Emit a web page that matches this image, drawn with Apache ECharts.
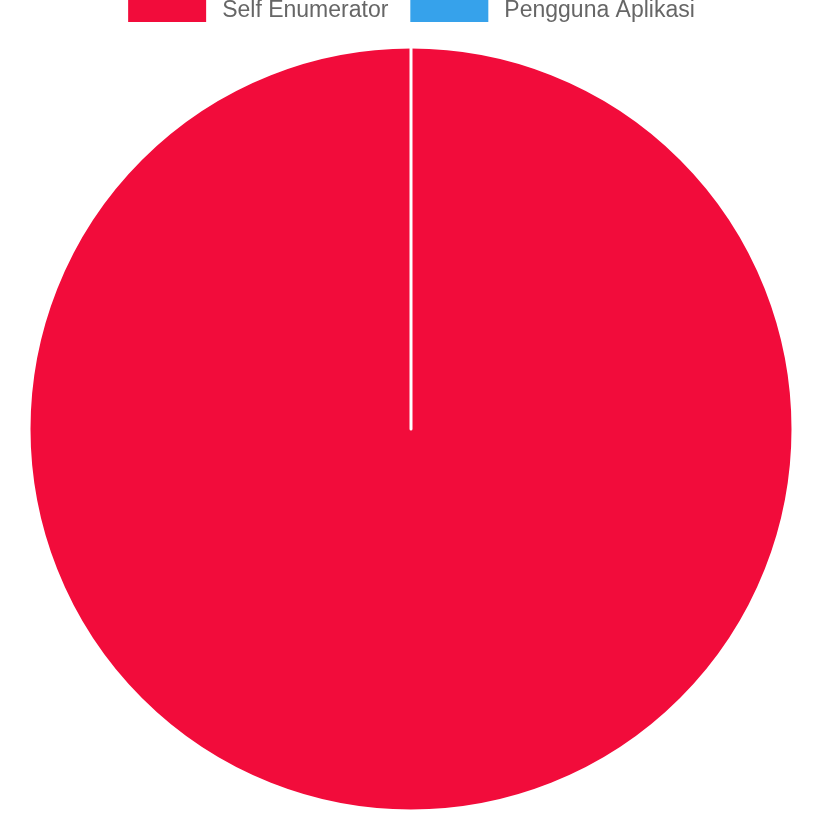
<!DOCTYPE html>
<html>
<head>
<meta charset="utf-8">
<script src="https://cdn.jsdelivr.net/npm/echarts@6/dist/echarts.min.js"></script>
<style>
  html, body { margin: 0; padding: 0; background: #fff; }
  #chart { width: 821px; height: 816px; }
</style>
</head>
<body>
<div id="chart"></div>
<script>
var labels = ["Self Enumerator", "Pengguna Aplikasi"];
var values = [100, 0];
var colors = ["#f20c3b", "#36a2eb"];

var myChart = echarts.init(document.getElementById("chart"));
myChart.setOption({
  animation: false,
  legend: {
    top: -3,
    padding: 0,
    left: "center",
    itemWidth: 80,
    itemHeight: 25,
    itemGap: 20,
    icon: "rect",
    textStyle: {
      color: "#666",
      fontSize: 23,
      fontFamily: "Liberation Sans",
      padding: [0, 0, 0, 10],
    },
    data: labels,
  },
  series: [
    {
      type: "pie",
      center: [411, 429],
      radius: [0, 382],
      startAngle: 90,
      clockwise: true,
      label: { show: false },
      labelLine: { show: false },
      itemStyle: {
        borderColor: "#fff",
        borderWidth: 3,
      },
      emphasis: { disabled: true },
      data: labels.map(function (name, i) {
        return { name: name, value: values[i], itemStyle: { color: colors[i] } };
      }),
    },
  ],
});
</script>
</body>
</html>
